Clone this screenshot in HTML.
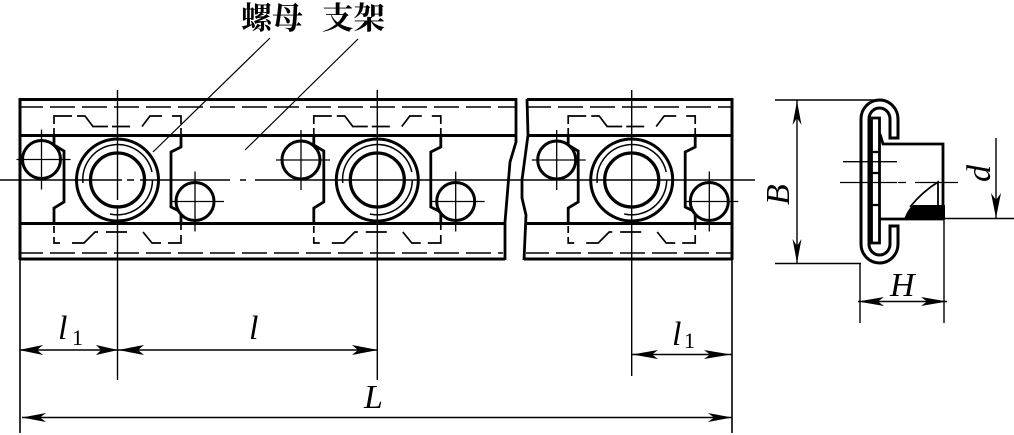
<!DOCTYPE html>
<html><head><meta charset="utf-8">
<style>
html,body{margin:0;padding:0;background:#fff;width:1014px;height:435px;overflow:hidden}
svg{display:block}
.t{fill:#000;stroke:none;font-family:"Liberation Serif",serif;font-style:italic}
.n{fill:#000;stroke:none;font-family:"Liberation Serif",serif;font-size:22px}
.c{fill:#000;stroke:none;font-family:"Liberation Serif","Noto Serif CJK SC",serif;font-size:31px;font-weight:700}
.a{fill:#000;stroke:none}
</style></head>
<body>
<svg width="1014" height="435" viewBox="0 0 1014 435" xmlns="http://www.w3.org/2000/svg">
<defs>
<g id="unit" fill="none" stroke="#000">
  <circle cx="117.500" cy="180" r="41" stroke-width="3"/>
  <circle cx="117.500" cy="180" r="27" stroke-width="3.300"/>
  <path d="M83 183A35 35 0 0 1 152 172M152.500 180A35 35 0 0 1 110 214" stroke-width="1.500"/>
  <path d="M54 135V145L64 151V202L54 208V223M181 135V147L171 152V207L181 212V223" stroke-width="2.800"/>
  <path d="M54 124V116H72M77 116H85L93 126.500H108M112 126.500H130M142 126.500L150 116H162M172 116H181V124M181 128V135M54 128V135M54 226V233M54 237V243H60M72 243H84L95 232H98M106 232H127M143 232L152 243H161M168 243H181V235M181 230V224" stroke-width="1.700"/>
</g>
<g id="hole" fill="none" stroke="#000">
  <circle r="19" fill="#fff" stroke-width="3"/>
  <path d="M-25 0H29M0 -30V30" stroke-width="1.300"/>
</g>
</defs>

<!-- rails -->
<g fill="none" stroke="#000">
  <path d="M20 99.500H516M527 99.500H732M20 135.500H516M528 135.500H732M20 223.500H505M525 223.500H732M20 259H505M524 259H732" stroke-width="3"/>
  <path d="M20 98V260M732 98V260" stroke-width="3"/>
  <path d="M516 98V142L510 162L505 222V260" stroke-width="2.800"/>
  <path d="M527 99L528 135L522 180V198L526 215L524 260" stroke-width="2.800"/>
  <path d="M20 107H515M528 107H731M20 253H503M526 253H731" stroke-width="1.600" stroke-dasharray="25 7" stroke-dashoffset="2"/>
</g>

<use href="#unit"/>
<use href="#unit" x="259.800"/>
<use href="#unit" x="514.200"/>
<use href="#hole" x="41.500" y="159.500"/>
<use href="#hole" x="195" y="201.500"/>
<use href="#hole" x="301" y="160"/>
<use href="#hole" x="455.700" y="201.500"/>
<use href="#hole" x="556.700" y="160"/>
<use href="#hole" x="709.300" y="201.500"/>

<!-- centre lines and leaders -->
<g fill="none" stroke="#000" stroke-width="1.400">
  <path d="M0 180H122M127 180H134M140 180H230M240 180H246M255 180H755"/>
  <path d="M117.500 90V200M117.500 205V380M377.300 90V380M631.700 90V376"/>
  <path d="M20 259V433M732 259V433" stroke-width="1.600"/>
  <path d="M153 152L270 38M245 150L358 39" stroke-width="1.200"/>
  <path d="M20 350H377M632 354.500H732M22 417.500H732" stroke-width="1.500"/>
</g>

<!-- horizontal arrows -->
<g class="a">
  <path d="M19 350L43 345L37 350L43 355Z"/>
  <path d="M118 350L96 345L101 350L96 355Z"/>
  <path d="M118 350L144 345L138 350L144 355Z"/>
  <path d="M378 350L352 345L358 350L352 355Z"/>
  <path d="M632 354.500L658 350L652 354.500L658 359Z"/>
  <path d="M731 354.500L704 350L710 354.500L704 359Z"/>
  <path d="M22 417.500L46 413L40 417.500L46 422Z"/>
  <path d="M732 417.500L708 413L714 417.500L708 422Z"/>
</g>

<!-- side view -->
<g fill="none" stroke="#000">
  <path d="M898 138V119A18.500 19 0 0 0 861 119V244A18.500 19 0 0 0 898 244V226H890V244A10.500 11 0 0 1 869 244V119A10.500 11 0 0 1 890 119V138Z" stroke-width="3"/>
  <path d="M871.500 118H879.500V243H871.500Z" stroke-width="2.800"/>
  <path d="M880 134L883 144H943V219H880" stroke-width="2.800"/>
  <path d="M871 152H880M871 173H880M871 205H880" stroke-width="2.200"/>
  <path d="M843 161.700H897M840 182.500H897M898 182.500H906M915 182.500H958" stroke-width="1.300"/>
  <path d="M910 207Q922 192 938 182V205" stroke-width="1.800"/>
  <path d="M775 100H880M775 263.500H861M797 100V263M996 138V218M944 218.500H1014M860 263V323M944 218V323M858 301.500H947" stroke-width="1.400"/>
</g>
<path class="a" d="M904 219.500Q907 210 913 205H945V219.500Z"/>
<g class="a">
  <path d="M797 101L801.500 125L797 118L792.500 125Z"/>
  <path d="M797 263L801.500 239L797 246L792.500 239Z"/>
  <path d="M996 218L1001 193L996 200L991 193Z"/>
  <path d="M858 301.500L884 297L878 301.500L884 306Z"/>
  <path d="M947 301.500L921 297L927 301.500L921 306Z"/>
</g>

<!-- labels -->
<text class="c" x="241" y="29" textLength="62" lengthAdjust="spacingAndGlyphs">螺母</text>
<text class="c" x="322" y="29" textLength="63" lengthAdjust="spacingAndGlyphs">支架</text>
<text class="t" x="58" y="339" font-size="34">l</text>
<text class="n" x="72" y="345">1</text>
<text class="t" x="249" y="339" font-size="34">l</text>
<text class="t" x="364" y="408" font-size="34">L</text>
<text class="t" x="672" y="345" font-size="34">l</text>
<text class="n" x="684" y="348">1</text>
<text class="t" x="890" y="296" font-size="34">H</text>
<text class="t" font-size="34" transform="translate(789 205) rotate(-90)">B</text>
<text class="t" font-size="34" transform="translate(990 182) rotate(-90)">d</text>
</svg>
</body></html>
